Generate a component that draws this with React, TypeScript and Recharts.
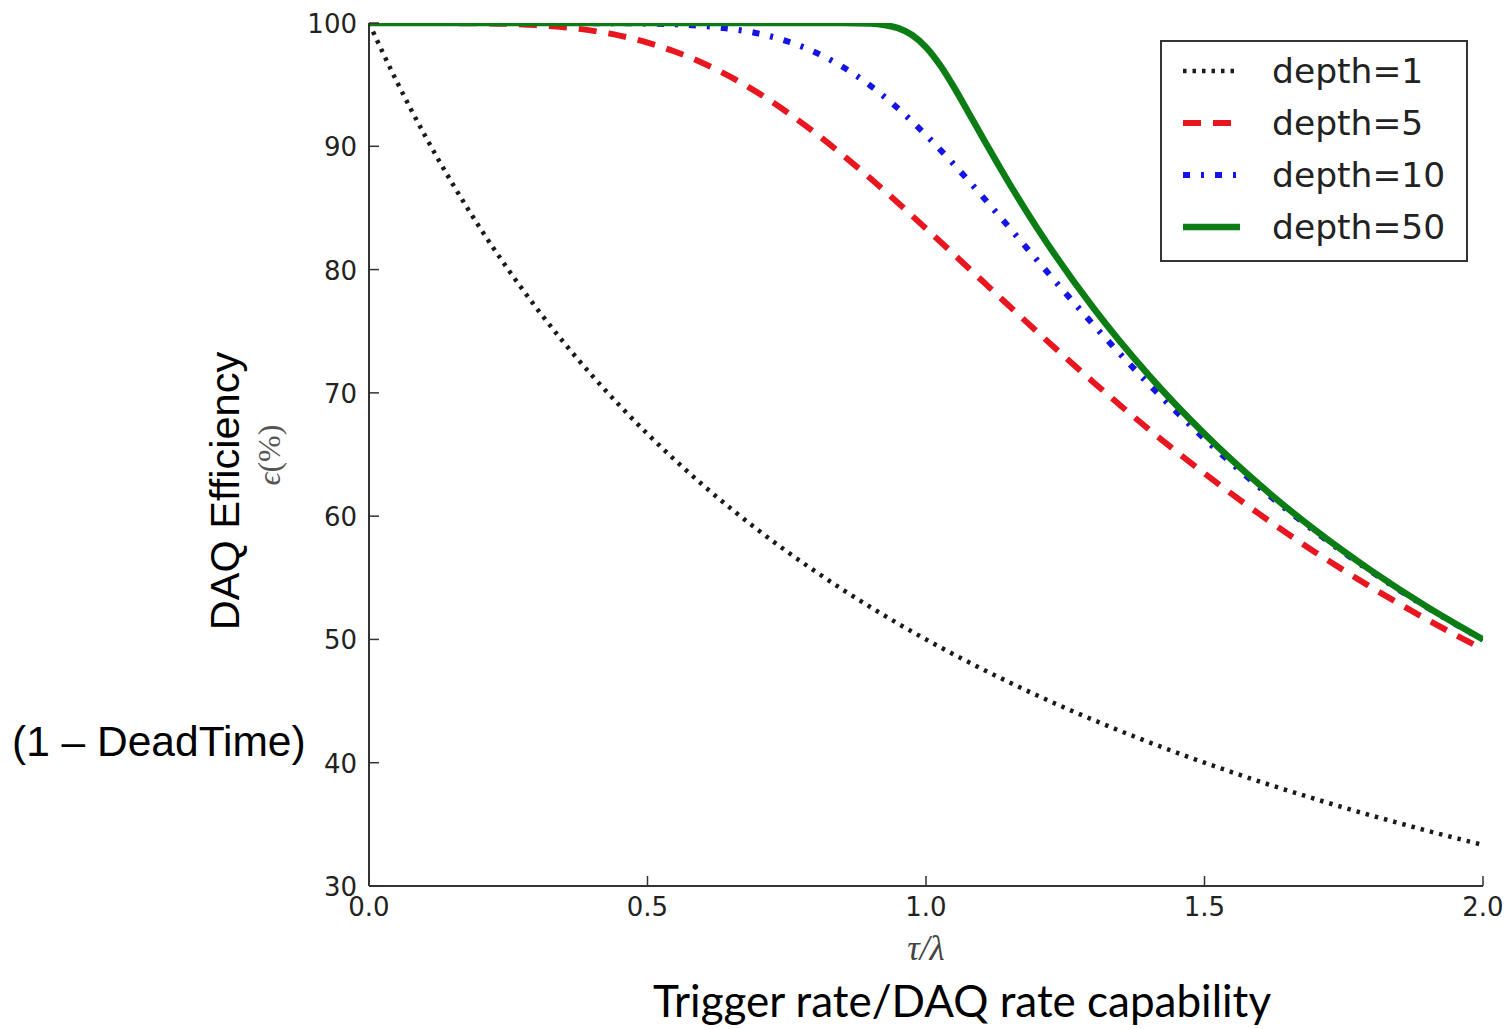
import { LineChart, Line, XAxis, YAxis, Legend } from "recharts";

// the figure fills the whole window, so drop the default body margin
document.body.style.margin = "0";

// tau/lambda sample points shared by depth 1, 5, 10
const tauValues = [
  0, 0.05, 0.1, 0.15, 0.2, 0.25, 0.3, 0.35, 0.4, 0.45, 0.5, 0.55, 0.6, 0.65, 0.7, 0.75, 0.8, 0.85, 0.9, 0.95,
  1.0, 1.05, 1.1, 1.15, 1.2, 1.25, 1.3, 1.35, 1.4, 1.45, 1.5, 1.55, 1.6, 1.65, 1.7, 1.75, 1.8, 1.85, 1.9, 1.95, 2.0,
];

const depth1Eff = [
  100, 95.24, 90.91, 86.96, 83.33, 80.0, 76.92, 74.07, 71.43, 68.97, 66.67, 64.52, 62.5, 60.61, 58.82, 57.14, 55.56,
  54.05, 52.63, 51.28, 50.0, 48.78, 47.62, 46.51, 45.45, 44.44, 43.48, 42.55, 41.67, 40.82, 40.0, 39.22, 38.46, 37.74,
  37.04, 36.36, 35.71, 35.09, 34.48, 33.9, 33.33,
];

const depth5Eff = [
  100, 100, 100, 99.99, 99.97, 99.93, 99.83, 99.66, 99.38, 98.98, 98.41, 97.67, 96.74, 95.61, 94.29, 92.78, 91.12,
  89.31, 87.4, 85.4, 83.33, 81.24, 79.13, 77.02, 74.94, 72.89, 70.89, 68.94, 67.05, 65.22, 63.46, 61.76, 60.12, 58.55,
  57.04, 55.6, 54.21, 52.88, 51.6, 50.38, 49.21,
];

const depth10Eff = [
  100, 100, 100, 100, 100, 100, 100, 100, 99.99, 99.98, 99.95, 99.89, 99.76, 99.52, 99.14, 98.53, 97.65, 96.45, 94.92,
  93.06, 90.91, 88.53, 86.0, 83.39, 80.74, 78.12, 75.56, 73.08, 70.71, 68.44, 66.28, 64.23, 62.29, 60.45, 58.7, 57.05,
  55.49, 54.0, 52.59, 51.25, 49.98,
];

// depth=50 has a sharp knee, so it gets its own, denser sampling around 1.0
const depth50Tau = [
  0, 0.1, 0.2, 0.3, 0.4, 0.5, 0.6, 0.7, 0.8, 0.85, 0.9, 0.925, 0.95, 0.975, 1.0, 1.025, 1.05, 1.075, 1.1, 1.15, 1.2,
  1.3, 1.4, 1.5, 1.6, 1.7, 1.8, 1.9, 2.0,
];
const depth50Eff = [
  100, 100, 100, 100, 100, 100, 100, 100, 100, 100, 99.95, 99.84, 99.58, 99.03, 98.04, 96.6, 94.81, 92.84, 90.84,
  86.95, 83.33, 76.92, 71.43, 66.67, 62.5, 58.82, 55.56, 52.63, 50.0,
];

const xTicks = [0, 0.5, 1.0, 1.5, 2.0];
const yTicks = [30, 40, 50, 60, 70, 80, 90, 100];

const zip = (xs: number[], ys: number[]) => xs.map((x, i) => ({ x, y: ys[i] }));

const series = [
  { name: "depth=1", data: zip(tauValues, depth1Eff), color: "#1a1a1a", width: 4.5, dash: "3.5 6" },
  { name: "depth=5", data: zip(tauValues, depth5Eff), color: "#e8161e", width: 6, dash: "18 12" },
  { name: "depth=10", data: zip(tauValues, depth10Eff), color: "#1414e6", width: 6, dash: "7 11 3 11" },
  { name: "depth=50", data: zip(depth50Tau, depth50Eff), color: "#0b7d14", width: 6.5, dash: undefined },
];

const AXIS = "#333333";
const TICK_FONT = "'DejaVu Sans', sans-serif";

const BottomTick = ({ x, y, payload }: any) => (
  <g>
    <line x1={x} x2={x} y1={y} y2={y - 10} stroke={AXIS} strokeWidth={1.5} />
    <text x={x} y={y + 30} textAnchor="middle" fontSize={26} fill="#222" fontFamily={TICK_FONT}>
      {Number(payload.value).toFixed(1)}
    </text>
  </g>
);

const TopTick = ({ x, y }: any) => <line x1={x} x2={x} y1={y} y2={y + 10} stroke={AXIS} strokeWidth={1.5} />;

const LeftTick = ({ x, y, payload }: any) => (
  <g>
    <line x1={x} x2={x + 10} y1={y} y2={y} stroke={AXIS} strokeWidth={1.5} />
    <text x={x - 12} y={y + 10} textAnchor="end" fontSize={26} fill="#222" fontFamily={TICK_FONT}>
      {payload.value}
    </text>
  </g>
);

const RightTick = ({ x, y }: any) => <line x1={x} x2={x - 10} y1={y} y2={y} stroke={AXIS} strokeWidth={1.5} />;

const LegendBox = () => (
  <svg width={308} height={222}>
    <rect x={1} y={1} width={306} height={220} fill="#fff" stroke={AXIS} strokeWidth={2} />
    {series.map((s, i) => {
      const cy = 31 + i * 52;
      return (
        <g key={s.name}>
          <line x1={23} x2={80} y1={cy} y2={cy} stroke={s.color} strokeWidth={s.width} strokeDasharray={s.dash} />
          <text x={112} y={cy + 12} fontSize={34.5} fill="#222" fontFamily={TICK_FONT}>
            {s.name}
          </text>
        </g>
      );
    })}
  </svg>
);

export default function App() {
  return (
    <div style={{ position: "relative", width: 1506, height: 1029 }}>
      <LineChart width={1506} height={1029} margin={{ top: 23, right: 23, left: 309, bottom: 113 }}>
        <XAxis
          dataKey="x"
          type="number"
          domain={[0, 2]}
          ticks={xTicks}
          interval={0}
          allowDataOverflow
          height={30}
          tickSize={0}
          tickMargin={0}
          tickLine={false}
          stroke={AXIS}
          strokeWidth={2}
          tick={(p: any) => <BottomTick {...p} />}
        />
        <XAxis
          xAxisId="top"
          orientation="top"
          dataKey="x"
          type="number"
          domain={[0, 2]}
          ticks={xTicks}
          interval={0}
          allowDataOverflow
          height={0}
          tickSize={0}
          tickMargin={0}
          tickLine={false}
          stroke={AXIS}
          strokeWidth={2}
          tick={(p: any) => <TopTick {...p} />}
        />
        <YAxis
          type="number"
          domain={[30, 100]}
          ticks={yTicks}
          interval={0}
          allowDataOverflow
          width={60}
          tickSize={0}
          tickMargin={0}
          tickLine={false}
          stroke={AXIS}
          strokeWidth={2}
          tick={(p: any) => <LeftTick {...p} />}
        />
        <YAxis
          yAxisId="right"
          orientation="right"
          type="number"
          domain={[30, 100]}
          ticks={yTicks}
          interval={0}
          allowDataOverflow
          width={0}
          tickSize={0}
          tickMargin={0}
          tickLine={false}
          stroke={AXIS}
          strokeWidth={2}
          tick={(p: any) => <RightTick {...p} />}
        />
        {series.map((s) => (
          <Line
            key={s.name}
            name={s.name}
            data={s.data}
            dataKey="y"
            type="monotone"
            stroke={s.color}
            strokeWidth={s.width}
            strokeDasharray={s.dash}
            dot={false}
            activeDot={false}
            isAnimationActive={false}
          />
        ))}
        <Legend
          layout="vertical"
          align="center"
          verticalAlign="middle"
          wrapperStyle={{ left: 1160, top: 40, width: 308, height: 222 }}
          content={() => <LegendBox />}
        />
      </LineChart>
      <svg width={1506} height={1029} style={{ position: "absolute", left: 0, top: 0, pointerEvents: "none" }}>
        <text x={926} y={960} textAnchor="middle" fontSize={35} fontStyle="italic" fill="#444" fontFamily="'Liberation Serif', serif">
          τ/λ
        </text>
        <text x={962} y={1017} textAnchor="middle" fontSize={44} fill="#000" fontFamily="Lato, 'Open Sans', sans-serif">
          Trigger rate/DAQ rate capability
        </text>
        <text
          x={239}
          y={491}
          textAnchor="middle"
          fontSize={41.5}
          fill="#000"
          fontFamily="'Liberation Sans', Arial, sans-serif"
          transform="rotate(-90 239 491)"
        >
          DAQ Efficiency
        </text>
        <text
          x={280}
          y={455}
          textAnchor="middle"
          fontSize={32}
          fill="#555"
          fontFamily="'Liberation Serif', serif"
          transform="rotate(-90 280 455)"
        >
          <tspan fontStyle="italic">ϵ</tspan>(%)
        </text>
        <text x={12} y={756} fontSize={42.5} fill="#000" fontFamily="'Liberation Sans', Arial, sans-serif">
          (1 – DeadTime)
        </text>
      </svg>
    </div>
  );
}
